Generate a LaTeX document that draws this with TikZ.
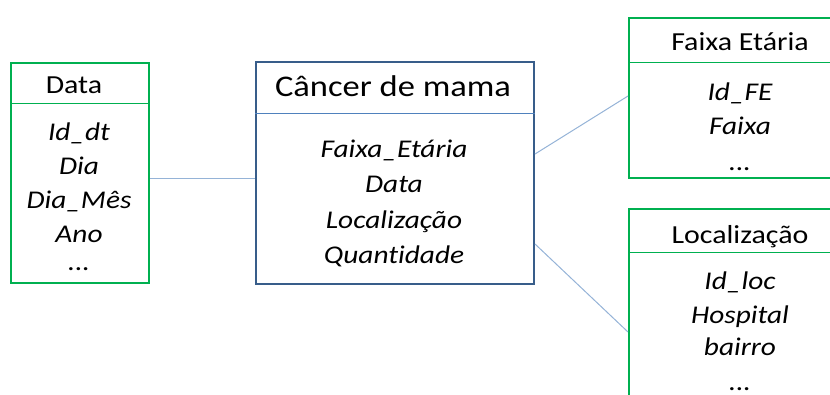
\documentclass[tikz,border=0pt]{standalone}
\usepackage{fontspec}
\setmainfont{Carlito}[FakeStretch=1.15, Ligatures={NoCommon}]
\definecolor{entgreen}{HTML}{00B050}
\definecolor{factblue}{HTML}{385D8A}
\definecolor{divblue}{HTML}{4F81BD}
\definecolor{linkblue}{HTML}{95B3D7}
\newcommand\mydots{...}
\begin{document}
\begin{tikzpicture}[x=1pt,y=-1pt,
  ent/.style={draw=entgreen, line width=2pt, inner sep=0pt, anchor=north west},
  fact/.style={draw=factblue, line width=2pt, inner sep=0pt, anchor=north west},
  gdiv/.style={draw=entgreen, line width=1pt},
  bdiv/.style={draw=divblue, line width=1pt},
  link/.style={draw=linkblue, line width=1pt},
  hdr/.style={anchor=base, inner sep=0pt, font=\fontsize{26}{30}\selectfont},
  bighdr/.style={anchor=base, inner sep=0pt, font=\fontsize{30}{34}\selectfont},
  item/.style={anchor=base, inner sep=0pt, font=\fontsize{25.5}{28}\selectfont\itshape}]
\useasboundingbox (0,0) rectangle (830,394);
\clip (0,0) rectangle (830,394);

% boxes
\node[ent, minimum width=138pt, minimum height=220pt] (data) at (10,62) {};
\node[fact, minimum width=278pt, minimum height=222pt] (cm) at (255,61) {};
\node[ent, minimum width=224pt, minimum height=160pt] (fe) at (628,17) {};
\node[ent, minimum width=224pt, minimum height=230pt] (loc) at (628,208) {};

% dividers
\draw[gdiv] (data.west |- 0,103) -- (data.east |- 0,103);
\draw[bdiv] (cm.west |- 0,113) -- (cm.east |- 0,113);
\draw[gdiv] (fe.west |- 0,62) -- (fe.east |- 0,62);
\draw[gdiv] (loc.west |- 0,252) -- (loc.east |- 0,252);

% headers
\node[hdr] (data-h) at (74,93) {Data};
\node[bighdr] (cm-h) at (393,96) {Câncer de mama};
\node[hdr] (fe-h) at (740,50) {Faixa Etária};
\node[hdr] (loc-h) at (740,243) {Localização};

% attributes
\foreach \t/\y [count=\i] in {Id\_dt/140, Dia/174, Dia\_Mês/208, Ano/242, \mydots/270}
  \node[item, name=d\i] at (79,\y) {\t};
\foreach \t/\y [count=\i] in {Faixa\_Etária/157, Data/192.5, Localização/228, Quantidade/263.5}
  \node[item, name=c\i] at (394,\y) {\t};
\foreach \t/\y [count=\i] in {Id\_FE/100, Faixa/134, \mydots/170}
  \node[item, name=f\i] at (740,\y) {\t};
\foreach \t/\y [count=\i] in {Id\_loc/289, Hospital/323, bairro/355, \mydots/390}
  \node[item, name=l\i] at (740,\y) {\t};

% connectors
\draw[link] ([yshift=-5pt]data.east) -- ([yshift=-5pt]cm.west);
\draw[link] ([yshift=19pt]cm.east) -- ([yshift=2pt]fe.west);
\draw[link] ([yshift=-71pt]cm.east) -- ([yshift=-124pt]loc.north west);
\end{tikzpicture}
\end{document}
